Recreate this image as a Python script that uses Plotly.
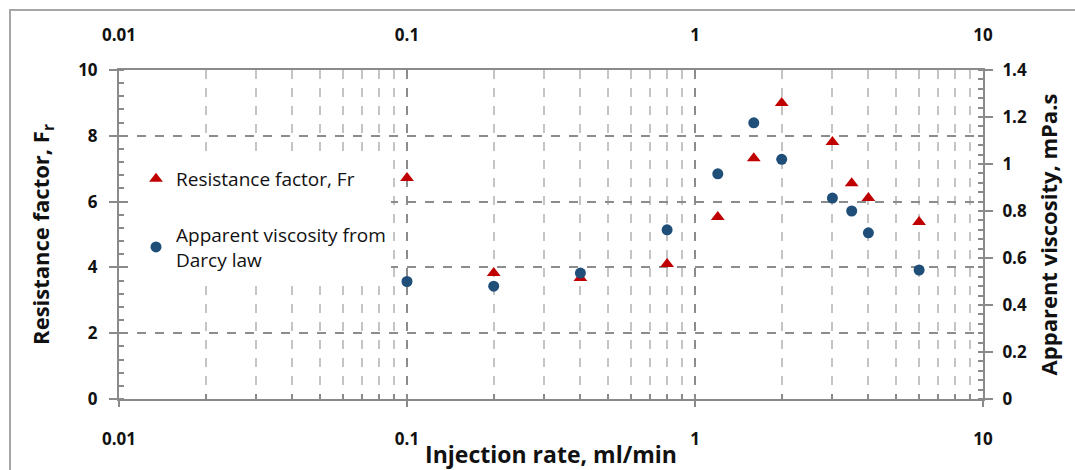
import plotly.graph_objects as go

# ---- data ----
rate = [0.1, 0.2, 0.4, 0.8, 1.2, 1.6, 2, 3, 3.5, 4, 6]
resistance_factor = [6.72, 3.83, 3.68, 4.10, 5.53, 7.32, 9.00, 7.81, 6.56, 6.11, 5.38]
apparent_viscosity = [0.500, 0.480, 0.536, 0.720, 0.958, 1.175, 1.020, 0.855, 0.800, 0.707, 0.549]

x_tick_vals = [0.01, 0.1, 1, 10]
x_tick_text = ["0.01", "0.1", "1", "10"]
x_minor_vals = [m * d for d in (0.01, 0.1, 1) for m in range(2, 10)]
y_left_ticks = [0, 2, 4, 6, 8, 10]
y_right_ticks = [0, 0.2, 0.4, 0.6, 0.8, 1, 1.2, 1.4]
y_right_text = ["0", "0.2", "0.4", "0.6", "0.8", "1", "1.2", "1.4"]

FONT = "Open Sans"
AX = "#8A8A8A"
RED = "#C00000"
BLUE = "#1F4E79"

W, H = 1075, 470
L, R, T, B = 119, 92, 70, 71
pw, ph = W - L - R, H - T - B

fig = go.Figure()
fig.add_trace(go.Scatter(
    x=rate, y=resistance_factor, mode="markers", name="Resistance factor, Fr",
    marker=dict(symbol="triangle-up", size=12, color=RED),
    xaxis="x", yaxis="y", legendgroup="a",
))
fig.add_trace(go.Scatter(
    x=rate, y=apparent_viscosity, mode="markers",
    name="Apparent viscosity from<br>Darcy law",
    marker=dict(symbol="circle", size=11, color=BLUE),
    xaxis="x2", yaxis="y2", legendgroup="b",
))

tickfont = dict(family=FONT, size=17, color="#111", weight="bold")
titlefont = dict(family=FONT, size=22, color="#111", weight="bold")
xtitlefont = dict(family=FONT, size=23, color="#111", weight="bold")

fig.update_layout(
    width=W, height=H,
    margin=dict(l=L, r=R, t=T, b=B),
    paper_bgcolor="white", plot_bgcolor="white",
    showlegend=True,
    legend=dict(
        x=(136 - L) / pw, y=(T + ph - 160) / ph, xanchor="left", yanchor="top",
        bgcolor="white", borderwidth=0,
        font=dict(family=FONT, size=19, color="#111"),
        traceorder="grouped", tracegroupgap=28, itemwidth=30,
    ),
    xaxis=dict(
        type="log", range=[-2, 1], automargin=False,
        tickvals=x_tick_vals, ticktext=x_tick_text,
        showgrid=True, gridcolor="#8C8C8C", griddash="dash", gridwidth=1.5,
        showline=True, linecolor=AX, linewidth=2,
        ticks="outside", ticklen=6, tickcolor=AX, tickwidth=1.5,
        ticklabelstandoff=18,
        tickfont=tickfont,
        title=dict(text="Injection rate, ml/min", font=xtitlefont, standoff=0),
        minor=dict(tickvals=x_minor_vals, showgrid=True, gridcolor="#C4C4C4",
                   griddash="dash", gridwidth=1.5,
                   ticks="inside", ticklen=5, tickcolor=AX),
        zeroline=False,
    ),
    xaxis2=dict(
        type="log", range=[-2, 1], overlaying="x", side="top", anchor="y2",
        automargin=False,
        tickvals=x_tick_vals, ticktext=x_tick_text,
        showgrid=False, showline=True, linecolor=AX, linewidth=2,
        ticks="", ticklabelstandoff=20,
        tickfont=tickfont,
    ),
    yaxis=dict(
        range=[0, 10], tickvals=y_left_ticks, automargin=False,
        showgrid=True, gridcolor="#8C8C8C", griddash="dash", gridwidth=1.5,
        showline=True, linecolor=AX, linewidth=2,
        ticks="outside", ticklen=8, tickcolor=AX, tickwidth=1.5,
        ticklabelstandoff=8,
        tickfont=tickfont, zeroline=False,
        title=dict(text="Resistance factor, F<sub>r</sub>", font=titlefont, standoff=22),
        minor=dict(dtick=0.4, ticks="inside", ticklen=5, tickcolor=AX, showgrid=False),
    ),
    yaxis2=dict(
        range=[0, 1.4], overlaying="y", side="right", anchor="x2", automargin=False,
        tickvals=y_right_ticks, ticktext=y_right_text,
        showgrid=False, showline=True, linecolor=AX, linewidth=2,
        ticks="outside", ticklen=8, tickcolor=AX, tickwidth=1.5,
        ticklabelstandoff=6,
        tickfont=tickfont, zeroline=False,
        title=dict(text="Apparent viscosity, mPa.s", font=titlefont, standoff=16),
        minor=dict(dtick=0.04, ticks="inside", ticklen=5, tickcolor=AX, showgrid=False),
    ),
    shapes=[dict(
        type="rect", xref="paper", yref="paper", layer="below",
        x0=(10 - L) / pw, x1=(W + 20 - L) / pw,
        y0=(T + ph - (H + 20)) / ph, y1=(T + ph - 10) / ph,
        line=dict(color="#A6A6A6", width=2), fillcolor="rgba(0,0,0,0)",
    )],
)

fig.write_html("out.html")
